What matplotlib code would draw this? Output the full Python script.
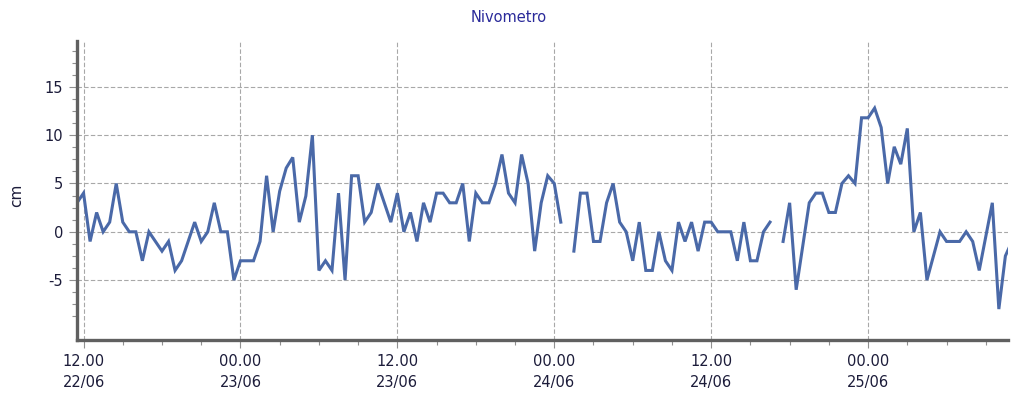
import numpy as np
import pandas as pd
import matplotlib
matplotlib.use("Agg")
from matplotlib import pyplot as plt
import matplotlib.dates as mdates

plt.rcParams["axes.unicode_minus"] = False

# half-hourly readings, first one at 11:30 22/06 (NaN = missing reading)
start = "2023-06-22 11:30"
snow_cm = [3, 4, -1, 2, 0, 1, 5, 1, 0, 0, -3, 0, -1, -2, -1, -4, -3, -1, 1, -1,
           0, 3, 0, 0, -5, -3, -3, -3, -1, 5.8, 0, 4.2, 6.6, 7.7, 1, 3.7, 10, -4, -3, -4,
           4, -5, 5.8, 5.8, 1, 2, 5, 3, 1, 4, 0, 2, -1, 3, 1, 4, 4, 3, 3, 5,
           -1, 4, 3, 3, 5, 8, 4, 3, 8, 5, -2, 3, 5.8, 5, 1, np.nan, -2, 4, 4, -1,
           -1, 3, 5, 1, 0, -3, 1, -4, -4, 0, -3, -4, 1, -1, 1, -2, 1, 1, 0, 0,
           0, -3, 1, -3, -3, 0, 1, np.nan, -1, 3, -6, -1.5, 3, 4, 4, 2, 2, 5, 5.8, 5,
           11.8, 11.8, 12.8, 10.8, 5, 8.8, 7, 10.7, 0, 2, -5, -2.5, 0, -1, -1, -1, 0, -1, -4, -0.5,
           3, -8, -2.5, -1]
y_ticks = [-5, 0, 5, 10, 15]

times = pd.date_range(start, periods=len(snow_cm), freq="30min")
vals = np.array(snow_cm, dtype=float)

fig = plt.figure(figsize=(10.17, 3.98), dpi=100)
ax = fig.add_axes([77/1017, 58/398, 931/1017, 299.5/398])

ax.plot(times, vals, color="#4a69a8", lw=2.2, solid_joinstyle="miter")

t0 = mdates.date2num(times[0])
ax.set_xlim(t0, t0 + 142.4/48)
ax.set_ylim(-11.2, 19.8)

ax.xaxis.set_major_locator(mdates.HourLocator(byhour=[0, 12]))
ax.xaxis.set_minor_locator(mdates.HourLocator(byhour=range(0, 24, 3)))
ax.xaxis.set_major_formatter(mdates.DateFormatter("%H.%M\n%d/%m"))
ax.set_yticks(y_ticks)
ax.set_yticks(np.arange(-8.75, 19.5, 1.25), minor=True)

ax.grid(True, which="major", color="#a8a8a8", ls=(0, (4, 2)), lw=0.8)
for s in ["top", "right"]:
    ax.spines[s].set_visible(False)
for s in ["left", "bottom"]:
    ax.spines[s].set_color("#606060")
    ax.spines[s].set_linewidth(2.4)

ax.tick_params(which="major", length=6, width=0.8, color="#909090",
               labelsize=10.5, labelcolor="#1c1c3a", pad=4)
ax.tick_params(which="minor", length=3.5, width=0.8, color="#909090")
for lab in ax.get_xticklabels():
    lab.set_linespacing(1.55)

fig.text(17/1017, 1 - 195/398, "cm", rotation=90, ha="center", va="center",
         fontsize=11, color="#1c1c3a")
fig.text(0.5, 1 - 17/398, "Nivometro", ha="center", va="center",
         fontsize=10.5, color="#2a2a9a")

fig.savefig("out.png", dpi=100)
